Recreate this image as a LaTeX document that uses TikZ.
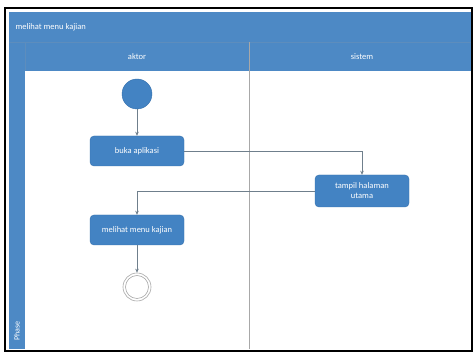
\documentclass[tikz,border=0pt]{standalone}
\usepackage{fontspec}
\setmainfont{Carlito}
\usetikzlibrary{arrows.meta}
\definecolor{lanebar}{HTML}{4D89C5}
\definecolor{actfill}{HTML}{4383C3}
\definecolor{actedge}{HTML}{3470AD}
\definecolor{flowline}{HTML}{6F7F8C}
\definecolor{endring}{HTML}{A8A8A8}
\begin{document}
\begin{tikzpicture}[x=1pt,y=-1pt,
  action/.style={draw=actedge,fill=actfill,rounded corners=4pt,
    minimum width=94pt,minimum height=30pt,text=white,align=center,
    font=\fontsize{8.5}{10}\selectfont,inner sep=1pt},
  flow/.style={draw=flowline,line width=0.6pt,-{Stealth[length=4pt,width=3.5pt]}},
  bartext/.style={text=white,font=\fontsize{8.5}{10}\selectfont}]
  \useasboundingbox (0,0) rectangle (475,352);
  \fill[white] (0,0) rectangle (475,352);
  % outer frame
  \draw[black,line width=1.6pt] (5,8) rectangle (472,351);
  % title bar and lane headers
  \fill[lanebar] (9,12) rectangle (471,71);
  \draw[actedge!80,line width=0.6pt] (9,42) -- (471,42);
  \fill[lanebar] (9,71) rectangle (25,349);
  \fill[white] (25,71) rectangle (471,349);
  \draw[endring,line width=0.8pt] (249,42) -- (249,349);
  \draw[actedge!80,line width=0.5pt] (25,42) -- (25,71);
  \node[bartext,anchor=west] (title) at (12,27) {melihat menu kajian};
  \node[bartext] (lane1) at (137,57) {aktor};
  \node[bartext] (lane2) at (362,57) {sistem};
  \node[bartext,rotate=90,font=\fontsize{8}{9}\selectfont] (phase) at (17,331) {Phase};
  % activities
  \node[circle,fill=actfill,draw=actedge,minimum size=30pt,inner sep=0pt] (start) at (137,94) {};
  \node[action] (buka) at (137,151) {buka aplikasi};
  \node[action,minimum height=32pt] (tampil) at (362,191) {tampil halaman\\utama};
  \node[action] (lihat) at (137,230) {melihat menu kajian};
  \node[circle,draw=endring,line width=0.6pt,minimum size=28pt,inner sep=0pt] (final) at (137,287) {};
  \node[circle,draw=endring,line width=0.6pt,minimum size=23pt,inner sep=0pt] (finalin) at (137,287) {};
  % control flows
  \draw[flow] (start) -- (buka);
  \draw[flow] (buka.east) -| (tampil.north);
  \draw[flow] (tampil.west) -| (lihat.north);
  \draw[flow] (lihat) -- (final);
\end{tikzpicture}
\end{document}
